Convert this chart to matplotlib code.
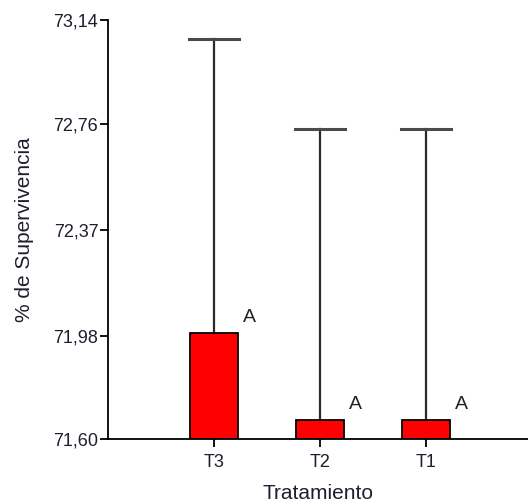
import matplotlib.pyplot as plt

# datos
tratamientos = ['T3', 'T2', 'T1']
medias = [71.99, 71.67, 71.67]
superior = [73.07, 72.74, 72.74]
letras = ['A', 'A', 'A']
ticks_y = [71.60, 71.98, 72.37, 72.76, 73.14]
etiquetas_y = ['71,60', '71,98', '72,37', '72,76', '73,14']

plt.rcParams['font.family'] = ['Liberation Sans', 'DejaVu Sans']

fig = plt.figure(figsize=(5.28, 5.04), dpi=100)
ax = fig.add_axes([0.2045, 0.129, 0.7955, 0.831])

x = list(range(len(tratamientos)))
base = ticks_y[0]
alturas = [m - base for m in medias]

# barras de error (solo superior)
for i in x:
    ax.plot([i, i], [medias[i], superior[i]], color='#2a2a2a', lw=1.6, zorder=1)
    ax.plot([i - 0.235, i + 0.235], [superior[i], superior[i]], color='#4a4a4a', lw=2.2, zorder=1)

ax.bar(x, alturas, bottom=base, width=0.45, color='#ff0000', edgecolor='black',
       linewidth=1.3, zorder=2)

for i in x:
    ax.text(i + 0.27, medias[i] + 0.025, letras[i], fontsize=14, color='#222222',
            ha='left', va='bottom')

ax.set_xlim(-1, 2.96)
ax.set_ylim(base, ticks_y[-1])
ax.set_xticks(x)
ax.set_xticklabels(tratamientos)
ax.set_yticks(ticks_y)
ax.set_yticklabels(etiquetas_y)
ax.tick_params(axis='both', labelsize=13, labelcolor='#1e1e2e', length=6, width=1.3)
ax.tick_params(axis='y', pad=1)
ax.tick_params(axis='x', pad=5)

ax.spines['top'].set_visible(False)
ax.spines['right'].set_visible(False)
ax.spines['left'].set_linewidth(1.3)
ax.spines['bottom'].set_linewidth(1.3)

ax.set_ylabel('% de Supervivencia', fontsize=15, color='#1e1e2e', labelpad=14)
ax.set_xlabel('Tratamiento', fontsize=15, color='#1e1e2e', labelpad=9)

fig.savefig('out.png', dpi=100)
